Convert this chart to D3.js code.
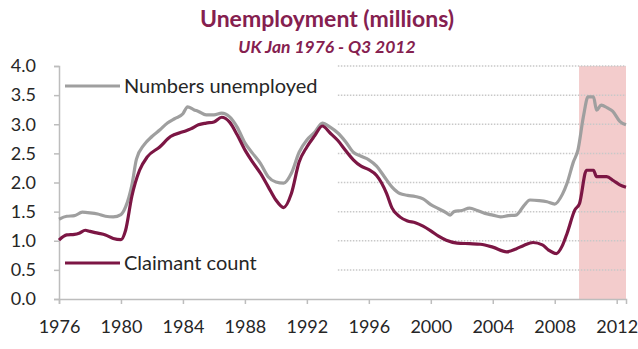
<!DOCTYPE html>
<html>
<head>
<meta charset="utf-8">
<script src="https://cdn.jsdelivr.net/npm/d3@7"></script>
<style>
  body { margin: 0; background: #fff; }
  svg { font-family: Lato, "Liberation Sans", sans-serif; }
</style>
</head>
<body>
<svg id="chart"></svg>
<script>
// series (millions)
const unempYears = [1976.0, 1976.5, 1977.0, 1977.5, 1978.0, 1978.5, 1979.0, 1979.5, 1980.0, 1980.3,
  1980.7, 1981.0, 1981.5, 1982.0, 1982.5, 1983.0, 1983.5, 1984.0, 1984.3, 1984.7,
  1985.0, 1985.5, 1986.0, 1986.5, 1987.0, 1987.5, 1988.0, 1988.5, 1989.0, 1989.5,
  1990.0, 1990.5, 1991.0, 1991.5, 1992.0, 1992.5, 1993.0, 1993.5, 1994.0, 1994.5,
  1995.0, 1995.5, 1996.0, 1996.5, 1997.0, 1997.5, 1998.0, 1998.5, 1999.0, 1999.5,
  2000.0, 2000.5, 2001.0, 2001.25, 2001.5, 2002.0, 2002.5, 2003.0, 2003.5, 2004.0,
  2004.5, 2005.0, 2005.5, 2006.0, 2006.4, 2007.0, 2007.5, 2008.0, 2008.5, 2008.8,
  2009.2, 2009.5, 2009.85, 2010.15, 2010.5, 2010.7, 2011.0, 2011.4, 2011.75, 2012.2, 2012.6];
const unempValues = [1.37, 1.42, 1.43, 1.49, 1.48, 1.46, 1.42, 1.41, 1.45, 1.58,
  1.95, 2.40, 2.65, 2.79, 2.90, 3.02, 3.10, 3.18, 3.30, 3.25,
  3.22, 3.16, 3.16, 3.19, 3.13, 2.95, 2.68, 2.50, 2.33, 2.10,
  2.01, 1.99, 2.16, 2.52, 2.73, 2.86, 3.02, 2.95, 2.85, 2.70,
  2.52, 2.45, 2.39, 2.28, 2.10, 1.92, 1.81, 1.78, 1.76, 1.72,
  1.62, 1.55, 1.48, 1.44, 1.50, 1.52, 1.56, 1.52, 1.47, 1.44,
  1.41, 1.43, 1.44, 1.60, 1.70, 1.69, 1.67, 1.63, 1.80, 1.99,
  2.35, 2.56, 3.13, 3.47, 3.47, 3.24, 3.33, 3.28, 3.22, 3.05, 2.99];

const claimYears = [1976.0, 1976.5, 1977.0, 1977.3, 1977.7, 1978.0, 1978.5, 1979.0, 1979.5, 1980.0,
  1980.3, 1980.7, 1981.2, 1981.7, 1982.5, 1983.2, 1984.0, 1984.5, 1985.0, 1985.5,
  1986.0, 1986.5, 1987.0, 1987.5, 1988.0, 1988.5, 1989.0, 1989.5, 1990.0, 1990.5,
  1991.0, 1991.5, 1992.0, 1992.5, 1993.0, 1993.5, 1994.0, 1994.5, 1995.0, 1995.5,
  1996.0, 1996.5, 1997.15, 1997.5, 1998.0, 1998.5, 1999.0, 1999.5, 2000.0, 2000.5,
  2001.0, 2001.7, 2002.5, 2003.2, 2004.0, 2004.9, 2005.5, 2006.0, 2006.6, 2007.2,
  2007.6, 2008.1, 2008.5, 2008.8, 2009.3, 2009.6, 2010.05, 2010.5, 2010.7, 2011.35,
  2011.8, 2012.2, 2012.6];
const claimValues = [1.01, 1.10, 1.11, 1.13, 1.18, 1.16, 1.13, 1.10, 1.04, 1.02,
  1.18, 1.76, 2.21, 2.44, 2.61, 2.79, 2.87, 2.92, 2.99, 3.02,
  3.04, 3.12, 3.04, 2.82, 2.56, 2.35, 2.16, 1.93, 1.70, 1.57,
  1.81, 2.35, 2.61, 2.80, 2.97, 2.85, 2.72, 2.55, 2.39, 2.28,
  2.22, 2.12, 1.81, 1.56, 1.41, 1.34, 1.31, 1.25, 1.17, 1.08,
  1.01, 0.96, 0.95, 0.94, 0.89, 0.81, 0.86, 0.92, 0.97, 0.93,
  0.84, 0.78, 0.92, 1.13, 1.53, 1.64, 2.21, 2.21, 2.10, 2.10,
  2.03, 1.96, 1.92];

const yTicks = [0, 0.5, 1, 1.5, 2, 2.5, 3, 3.5, 4];
const xTicks = [1976, 1980, 1984, 1988, 1992, 1996, 2000, 2004, 2008, 2012];
const gridYears = [1994, 2012.6];
const recession = [2009.57, 2012.6];
const seriesNames = ["Numbers unemployed", "Claimant count"];

const width = 638, height = 349;
const margin = {top: 66, right: 12, bottom: 50, left: 59};

const svg = d3.select("#chart").attr("width", width).attr("height", height);

const x = d3.scaleLinear().domain([1976, 2012.6]).range([margin.left, width - margin.right]);
const y = d3.scaleLinear().domain([0, 4]).range([height - margin.bottom, margin.top]);

// shaded period
svg.append("rect")
    .attr("x", x(recession[0]))
    .attr("y", y(4))
    .attr("width", x(recession[1]) - x(recession[0]))
    .attr("height", y(0) - y(4))
    .attr("fill", "#f3cccc");

// dotted gridlines (only on the right part)
svg.append("g")
    .selectAll("line")
    .data(yTicks.filter(d => d > 0))
    .join("line")
    .attr("x1", x(gridYears[0]))
    .attr("x2", x(gridYears[1]))
    .attr("y1", d => y(d))
    .attr("y2", d => y(d))
    .attr("stroke", "#c8c8c8")
    .attr("stroke-width", 1.5)
    .attr("stroke-dasharray", "1.5,1.5");

// axes
const yAxis = svg.append("g")
    .attr("transform", `translate(${margin.left},0)`)
    .call(d3.axisLeft(y).tickValues(yTicks).tickFormat(d3.format(".1f")).tickSize(5).tickPadding(18));
const xAxis = svg.append("g")
    .attr("transform", `translate(0,${y(0)})`)
    .call(d3.axisBottom(x).tickValues(xTicks).tickFormat(d3.format("d")).tickSize(5).tickPadding(16));

[yAxis, xAxis].forEach(g => {
    g.select(".domain").attr("stroke", "#bdbdbd").attr("stroke-width", 1.5);
    g.selectAll(".tick line").attr("stroke", "#bdbdbd").attr("stroke-width", 1.5);
    g.selectAll(".tick text").attr("fill", "#262626").attr("font-size", 18).attr("font-family", "Lato, sans-serif");
});

// lines
const line = d3.line()
    .x(d => x(d[0]))
    .y(d => y(d[1]))
    .curve(d3.curveMonotoneX);

const unemp = unempYears.map((t, i) => [t, unempValues[i]]);
const claim = claimYears.map((t, i) => [t, claimValues[i]]);

svg.append("path")
    .datum(unemp)
    .attr("fill", "none")
    .attr("stroke", "#9f9f9f")
    .attr("stroke-width", 3.2)
    .attr("d", line);

svg.append("path")
    .datum(claim)
    .attr("fill", "none")
    .attr("stroke", "#7c1644")
    .attr("stroke-width", 3.2)
    .attr("d", line);

// inline legend labels
const legendRows = [
    {name: seriesNames[0], color: "#9f9f9f", y: 86},
    {name: seriesNames[1], color: "#7c1644", y: 263}
];
legendRows.forEach(r => {
    svg.append("line")
        .attr("x1", 65).attr("x2", 120)
        .attr("y1", r.y).attr("y2", r.y)
        .attr("stroke", r.color)
        .attr("stroke-width", 3.2);
    svg.append("text")
        .attr("x", 124).attr("y", r.y)
        .attr("dy", "0.36em")
        .attr("font-size", 20)
        .attr("fill", "#262626")
        .text(r.name);
});

// titles
svg.append("text")
    .attr("x", 327).attr("y", 27)
    .attr("text-anchor", "middle")
    .attr("font-size", 23)
    .attr("font-weight", "bold")
    .attr("fill", "#85204f")
    .text("Unemployment (millions)");

svg.append("text")
    .attr("x", 327).attr("y", 53)
    .attr("text-anchor", "middle")
    .attr("font-size", 17.5)
    .attr("font-weight", "bold")
    .attr("font-style", "italic")
    .attr("fill", "#85204f")
    .text("UK Jan 1976 - Q3 2012");
</script>
</body>
</html>
